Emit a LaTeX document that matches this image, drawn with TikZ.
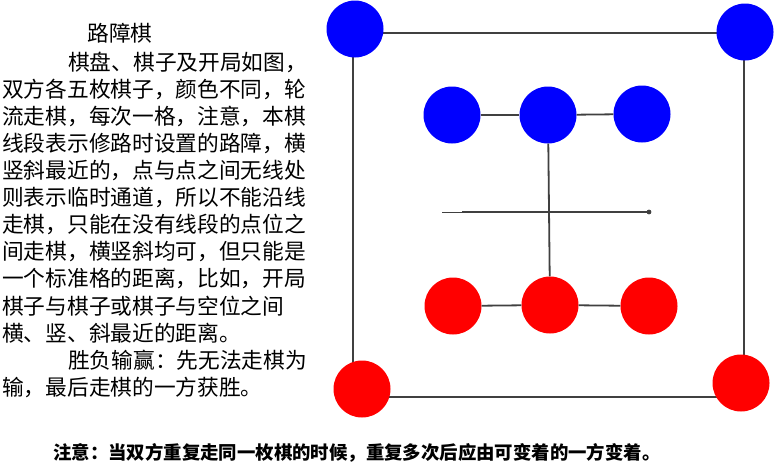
\documentclass[tikz,border=0pt]{standalone}
\usepackage{fontspec}
\newfontfamily\cjk{Noto Sans CJK SC}
\definecolor{boardline}{RGB}{64,64,64}
\definecolor{bluepiece}{RGB}{0,0,255}
\definecolor{redpiece}{RGB}{255,0,0}
\tikzset{
  bluestone/.style={circle,fill=bluepiece,minimum size=57pt,inner sep=0pt},
  redstone/.style={circle,fill=redpiece,minimum size=57pt,inner sep=0pt},
  barrier/.style={draw=boardline,line width=1.8pt},
  txt/.style={anchor=west,inner sep=0pt,font=\cjk\fontsize{21.7}{27}\selectfont},
  note/.style={anchor=west,inner sep=0pt,font=\cjk\bfseries\fontsize{18.4}{22}\selectfont}
}
\begin{document}
\begin{tikzpicture}[x=1pt,y=-1pt]
  \useasboundingbox (0,0) rectangle (775,463);
  % text on the left
  \node[txt,anchor=center] (title) at (120,33) {路障棋};
  \node[txt] (l1) at (68,62) {棋盘、棋子及开局如图，};
  \node[txt] (l2) at (2,89.1) {双方各五枚棋子，颜色不同，轮};
  \node[txt] (l3) at (2,116.2) {流走棋，每次一格，注意，本棋};
  \node[txt] (l4) at (2,143.3) {线段表示修路时设置的路障，横};
  \node[txt] (l5) at (2,170.4) {竖斜最近的，点与点之间无线处};
  \node[txt] (l6) at (2,197.5) {则表示临时通道，所以不能沿线};
  \node[txt] (l7) at (2,224.6) {走棋，只能在没有线段的点位之};
  \node[txt] (l8) at (2,251.7) {间走棋，横竖斜均可，但只能是};
  \node[txt] (l9) at (2,278.8) {一个标准格的距离，比如，开局};
  \node[txt] (l10) at (2,305.9) {棋子与棋子或棋子与空位之间};
  \node[txt] (l11) at (2,333) {横、竖、斜最近的距离。};
  \node[txt] (l12) at (68,360) {胜负输赢：先无法走棋为};
  \node[txt] (l13) at (2,387) {输，最后走棋的一方获胜。};
  \node[note] (n) at (53,453) {注意：当双方重复走同一枚棋的时候，重复多次后应由可变着的一方变着。};
  % board frame
  \coordinate (c1) at (353,33);
  \coordinate (c3) at (744,397);
  \draw[barrier] (c1) rectangle (c3);
  % pieces
  \draw
    (355,29) node[bluestone] (b1) {}
    (745,32) node[bluestone] (b2) {}
    (452,115) node[bluestone] (b3) {}
    (548,115) node[bluestone] (b4) {}
    (642,114) node[bluestone] (b5) {}
    (453,306) node[redstone] (r3) {}
    (550,305) node[redstone] (r4) {}
    (649,306) node[redstone] (r5) {}
    (362,389) node[redstone] (r1) {}
    (741,383) node[redstone] (r2) {};
  % barriers
  \coordinate (hl) at (442,212);
  \coordinate (hm) at (462,212);
  \coordinate (hr) at (649,212);
  \begin{scope}[barrier]
    \draw (b3) to (b4);
    \draw (b4) to (b5);
    \draw (r3) to (r4);
    \draw (r4) to (r5);
    \draw (b4) to (r4);
    \draw (hm) to (hr);
    \draw[line width=0.9pt] (hl) to (hm);
    \fill[boardline] (hr) circle (2.4);
  \end{scope}
\end{tikzpicture}
\end{document}
